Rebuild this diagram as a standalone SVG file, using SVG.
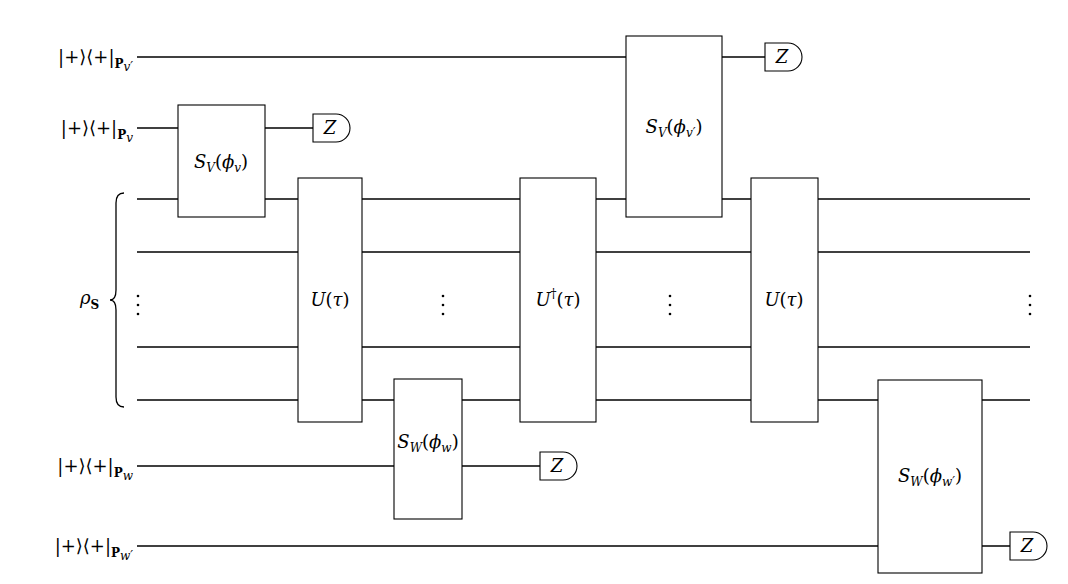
<svg xmlns="http://www.w3.org/2000/svg" width="1068" height="584" viewBox="0 0 1068 584">
<style>
.w{stroke:#000;stroke-width:1.3;fill:none}
.b{stroke:#000;stroke-width:1.1;fill:#fff}
text{font-family:"DejaVu Serif","Liberation Serif",serif;font-size:18px;fill:#000}
.i{font-style:italic}
.s{font-size:12px}
.bs{font-size:12px;font-weight:bold}
.c{text-anchor:middle}
.r{text-anchor:end}
</style>
<rect width="1068" height="584" fill="#fff"/>
<g id="wires">
<line class="w" x1="137" y1="57" x2="765" y2="57"/>
<line class="w" x1="137" y1="128" x2="313" y2="128"/>
<line class="w" x1="137" y1="199" x2="1030" y2="199"/>
<line class="w" x1="137" y1="252" x2="1030" y2="252"/>
<line class="w" x1="137" y1="347" x2="1030" y2="347"/>
<line class="w" x1="137" y1="400" x2="1030" y2="400"/>
<line class="w" x1="137" y1="466" x2="540" y2="466"/>
<line class="w" x1="137" y1="546" x2="1010" y2="546"/>
</g>
<g id="labels">
<text x="133" y="63" class="r">|+⟩⟨+|<tspan class="bs" dy="5">P</tspan><tspan class="s i" dy="3">v′</tspan></text>
<text x="133" y="134" class="r">|+⟩⟨+|<tspan class="bs" dy="5">P</tspan><tspan class="s i" dy="3">v</tspan></text>
<text x="133" y="472" class="r">|+⟩⟨+|<tspan class="bs" dy="5">P</tspan><tspan class="s i" dy="3">w</tspan></text>
<text x="133" y="552" class="r">|+⟩⟨+|<tspan class="bs" dy="5">P</tspan><tspan class="s i" dy="3">w′</tspan></text>
<text x="80" y="304"><tspan class="i">ρ</tspan><tspan class="bs" dy="5">S</tspan></text>
<path class="w" d="M124,193 Q116,193 116,203 L116,290 Q116,300 110,300 Q116,300 116,310 L116,397 Q116,407 124,407" stroke-width="1"/>
</g>
<g id="dots" fill="#000">
<circle cx="138" cy="296" r="1.3"/><circle cx="138" cy="305" r="1.3"/><circle cx="138" cy="314" r="1.3"/>
<circle cx="443" cy="296" r="1.3"/><circle cx="443" cy="305" r="1.3"/><circle cx="443" cy="314" r="1.3"/>
<circle cx="670" cy="296" r="1.3"/><circle cx="670" cy="305" r="1.3"/><circle cx="670" cy="314" r="1.3"/>
<circle cx="1030" cy="296" r="1.3"/><circle cx="1030" cy="305" r="1.3"/><circle cx="1030" cy="314" r="1.3"/>
</g>
<g id="SVv"><rect class="b" x="178" y="105" width="87" height="112"/><text x="221" y="168" class="c"><tspan class="i">S</tspan><tspan class="s i" dy="4">V</tspan><tspan dy="-4">(</tspan><tspan class="i">ϕ</tspan><tspan class="s i" dy="4">v</tspan><tspan dy="-4">)</tspan></text></g>
<g id="U1"><rect class="b" x="298" y="178" width="64" height="244"/><text x="330" y="306" class="c"><tspan class="i">U</tspan>(<tspan class="i">τ</tspan>)</text></g>
<g id="SWw"><rect class="b" x="394" y="379" width="68" height="140"/><text x="428" y="448" class="c"><tspan class="i">S</tspan><tspan class="s i" dy="4">W</tspan><tspan dy="-4">(</tspan><tspan class="i">ϕ</tspan><tspan class="s i" dy="4">w</tspan><tspan dy="-4">)</tspan></text></g>
<g id="Udag"><rect class="b" x="520" y="178" width="76" height="244"/><text x="558" y="306" class="c"><tspan class="i">U</tspan><tspan class="s" dy="-8">†</tspan><tspan dy="8">(</tspan><tspan class="i">τ</tspan>)</text></g>
<g id="SVv2"><rect class="b" x="626" y="36" width="96" height="181"/><text x="674" y="133" class="c"><tspan class="i">S</tspan><tspan class="s i" dy="4">V</tspan><tspan dy="-4">(</tspan><tspan class="i">ϕ</tspan><tspan class="s i" dy="4">v′</tspan><tspan dy="-4">)</tspan></text></g>
<g id="U2"><rect class="b" x="751" y="178" width="67" height="244"/><text x="784" y="306" class="c"><tspan class="i">U</tspan>(<tspan class="i">τ</tspan>)</text></g>
<g id="SWw2"><rect class="b" x="878" y="380" width="104" height="193"/><text x="930" y="482" class="c"><tspan class="i">S</tspan><tspan class="s i" dy="4">W</tspan><tspan dy="-4">(</tspan><tspan class="i">ϕ</tspan><tspan class="s i" dy="4">w′</tspan><tspan dy="-4">)</tspan></text></g>
<g id="Z1"><path class="b" d="M313,114 H336 A14,14 0 0 1 336,142 H313 Z"/><text x="330" y="134" class="c i">Z</text></g>
<g id="Z2"><path class="b" d="M765,43 H788 A14,14 0 0 1 788,71 H765 Z"/><text x="782" y="63" class="c i">Z</text></g>
<g id="Z3"><path class="b" d="M540,452 H563 A14,14 0 0 1 563,480 H540 Z"/><text x="557" y="472" class="c i">Z</text></g>
<g id="Z4"><path class="b" d="M1010,532 H1033 A14,14 0 0 1 1033,560 H1010 Z"/><text x="1027" y="552" class="c i">Z</text></g>
</svg>
